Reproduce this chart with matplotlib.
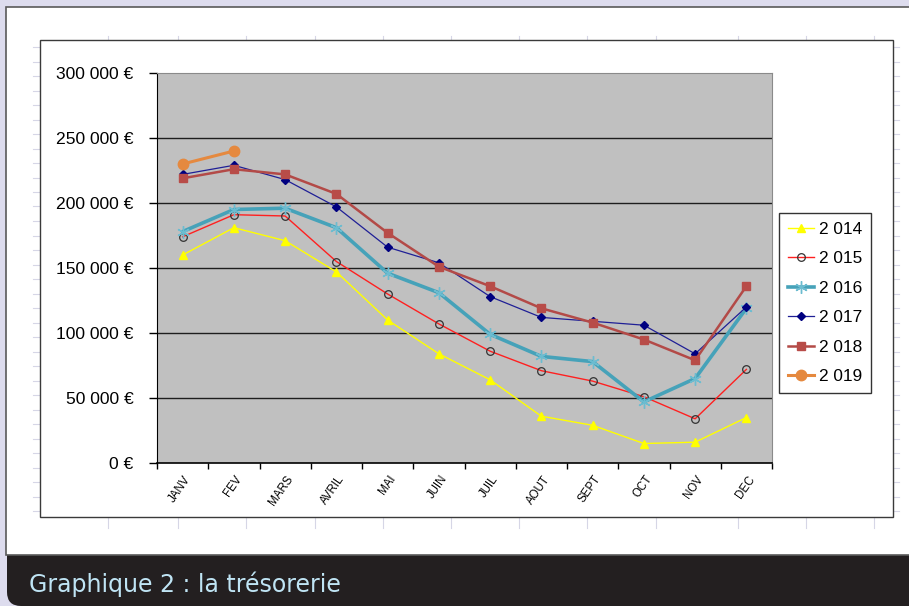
import matplotlib
matplotlib.use("Agg")
import matplotlib.pyplot as plt
from matplotlib.patches import Rectangle, FancyBboxPatch
from matplotlib.transforms import IdentityTransform, ScaledTranslation
from matplotlib.ticker import FuncFormatter, FixedLocator

# months and yearly cash balance (EUR)
months = ["JANV", "FEV", "MARS", "AVRIL", "MAI", "JUIN",
          "JUIL", "AOUT", "SEPT", "OCT", "NOV", "DEC"]

y2014 = [160000, 181000, 171000, 147000, 110000, 84000,
         64000, 36000, 29000, 15000, 16000, 35000]
y2015 = [174000, 191000, 190000, 155000, 130000, 107000,
         86000, 71000, 63000, 51000, 34000, 72000]
y2016 = [178000, 195000, 196000, 181000, 146000, 131000,
         99000, 82000, 78000, 47000, 65000, 119000]
y2017 = [222000, 229000, 218000, 197000, 166000, 154000,
         128000, 112000, 109000, 106000, 84000, 120000]
y2018 = [219000, 226000, 222000, 207000, 177000, 151000,
         136000, 119000, 108000, 95000, 79000, 136000]
y2019 = [230000, 240000]

labels = ["2 014", "2 015", "2 016", "2 017", "2 018", "2 019"]

W, H = 909, 606
fig = plt.figure(figsize=(W / 100, H / 100), dpi=100)
fig.patch.set_facecolor("#dddcee")


def fx(x):
    return x / W


def fy(y):
    return 1 - y / H


# dark caption band (rounded bottom-left corner)
fig.patches.append(FancyBboxPatch((7, 0), 960, 90, boxstyle="round,pad=0,rounding_size=14",
                                  transform=IdentityTransform(), facecolor="#231f20",
                                  edgecolor="none", zorder=0))
# white panel
fig.patches.append(Rectangle((fx(6), fy(555)), 1.0, fy(7) - fy(555), transform=fig.transFigure,
                             facecolor="white", edgecolor="#5a5a5a", lw=1.2, zorder=1))
# chart area box
fig.patches.append(Rectangle((fx(40), fy(517)), fx(893) - fx(40), fy(40) - fy(517),
                             transform=fig.transFigure, facecolor="white",
                             edgecolor="#3a3a3a", lw=1.0, zorder=2))

# faint spreadsheet cell marks around the chart box
for k in range(33):
    yy = 47 + k * 14.5
    if yy > 545:
        break
    fig.add_artist(plt.Line2D([fx(33), fx(39)], [fy(yy), fy(yy)], color="#d6d6e6", lw=0.8))
    fig.add_artist(plt.Line2D([fx(894), fx(899)], [fy(yy), fy(yy)], color="#d6d6e6", lw=0.8))
for xx in [108, 178, 246, 315, 383, 451, 519, 587, 656, 738, 806, 874]:
    fig.add_artist(plt.Line2D([fx(xx), fx(xx)], [fy(518), fy(528)], color="#d6d6e6", lw=0.8))
    fig.add_artist(plt.Line2D([fx(xx), fx(xx)], [fy(36), fy(39)], color="#d6d6e6", lw=0.8))

ax = fig.add_axes([fx(157), fy(463), fx(772) - fx(157), fy(73) - fy(463)])
ax.set_facecolor("#c0c0c0")
ax.set_zorder(3)

x = list(range(len(months)))
ax.plot(x, y2014, color="#ffff00", lw=1.0, marker="^", ms=5.5, mec="#ffff00", mfc="#ffff00",
        label=labels[0], zorder=4)
ax.plot(x, y2015, color="#ff2020", lw=1.0, marker="o", ms=5.5, mec="#333333", mfc="none",
        mew=0.9, label=labels[1], zorder=4)
ax.plot(x, y2016, color="#46a2b9", lw=2.6, marker=(6, 2, 0), ms=9, mec="#6cbcd0",
        mew=1.0, label=labels[2], zorder=4)
ax.plot(x, y2017, color="#1f1f96", lw=0.9, marker="D", ms=4, mec="#000080", mfc="#000080",
        label=labels[3], zorder=5)
ax.plot(x, y2018, color="#b34a47", lw=1.8, marker="s", ms=6, mec="#b84c48", mfc="#b84c48",
        label=labels[4], zorder=5)
ax.plot(range(len(y2019)), y2019, color="#e5893f", lw=2.2, marker="o", ms=7.5,
        mec="#e5893f", mfc="#e5893f", label=labels[5], zorder=6)

ax.set_ylim(0, 300000)
ax.set_xlim(-0.5, len(months) - 0.5)
ax.set_yticks(range(0, 300001, 50000))
ax.yaxis.set_major_formatter(FuncFormatter(lambda v, p: f"{int(v):,}".replace(",", " ") + " €"))
for v in range(50000, 300000, 50000):
    ax.axhline(v, color="#1e1e1e", lw=1.0, zorder=1)

ax.xaxis.set_major_locator(FixedLocator([i - 0.5 for i in range(len(months) + 1)]))
ax.xaxis.set_minor_locator(FixedLocator(x))
ax.set_xticklabels([])
ax.set_xticklabels(months, minor=True)
ax.tick_params(axis="x", which="major", length=4, width=1, color="black", direction="out")
ax.tick_params(axis="x", which="minor", length=0, pad=10, labelsize=8.3)
ax.tick_params(axis="y", length=6, width=1, color="black", pad=11, labelsize=12.6)
for t in ax.get_yticklabels():
    t.set_family("Liberation Sans")
for t in ax.get_xticklabels(minor=True):
    t.set_family("Liberation Sans")
    t.set_rotation(55)
    t.set_ha("right")
    t.set_va("center")
    t.set_rotation_mode("anchor")
    t.set_transform(t.get_transform() + ScaledTranslation(0.06, 0, fig.dpi_scale_trans))

ax.spines["left"].set_color("black")
ax.spines["bottom"].set_color("black")
ax.spines["bottom"].set_linewidth(1.2)
ax.spines["top"].set_color("#8a8a8a")
ax.spines["right"].set_color("#8a8a8a")

leg = fig.legend(loc="upper left", bbox_to_anchor=(fx(779), fy(213)), borderaxespad=0,
                 frameon=True, fancybox=False, edgecolor="#333333", framealpha=1,
                 handlelength=1.55, handletextpad=0.3, labelspacing=0.84, borderpad=0.5,
                 prop={"family": "Liberation Sans", "size": 12.4})
leg.get_frame().set_linewidth(1.0)
leg.set_zorder(10)

fig.text(fx(29), fy(592), "Graphique 2 : la trésorerie", color="#bfe4f4", fontsize=17,
         family="DejaVu Sans", va="baseline", ha="left", zorder=10)

fig.savefig("out.png", dpi=100, facecolor=fig.get_facecolor())
